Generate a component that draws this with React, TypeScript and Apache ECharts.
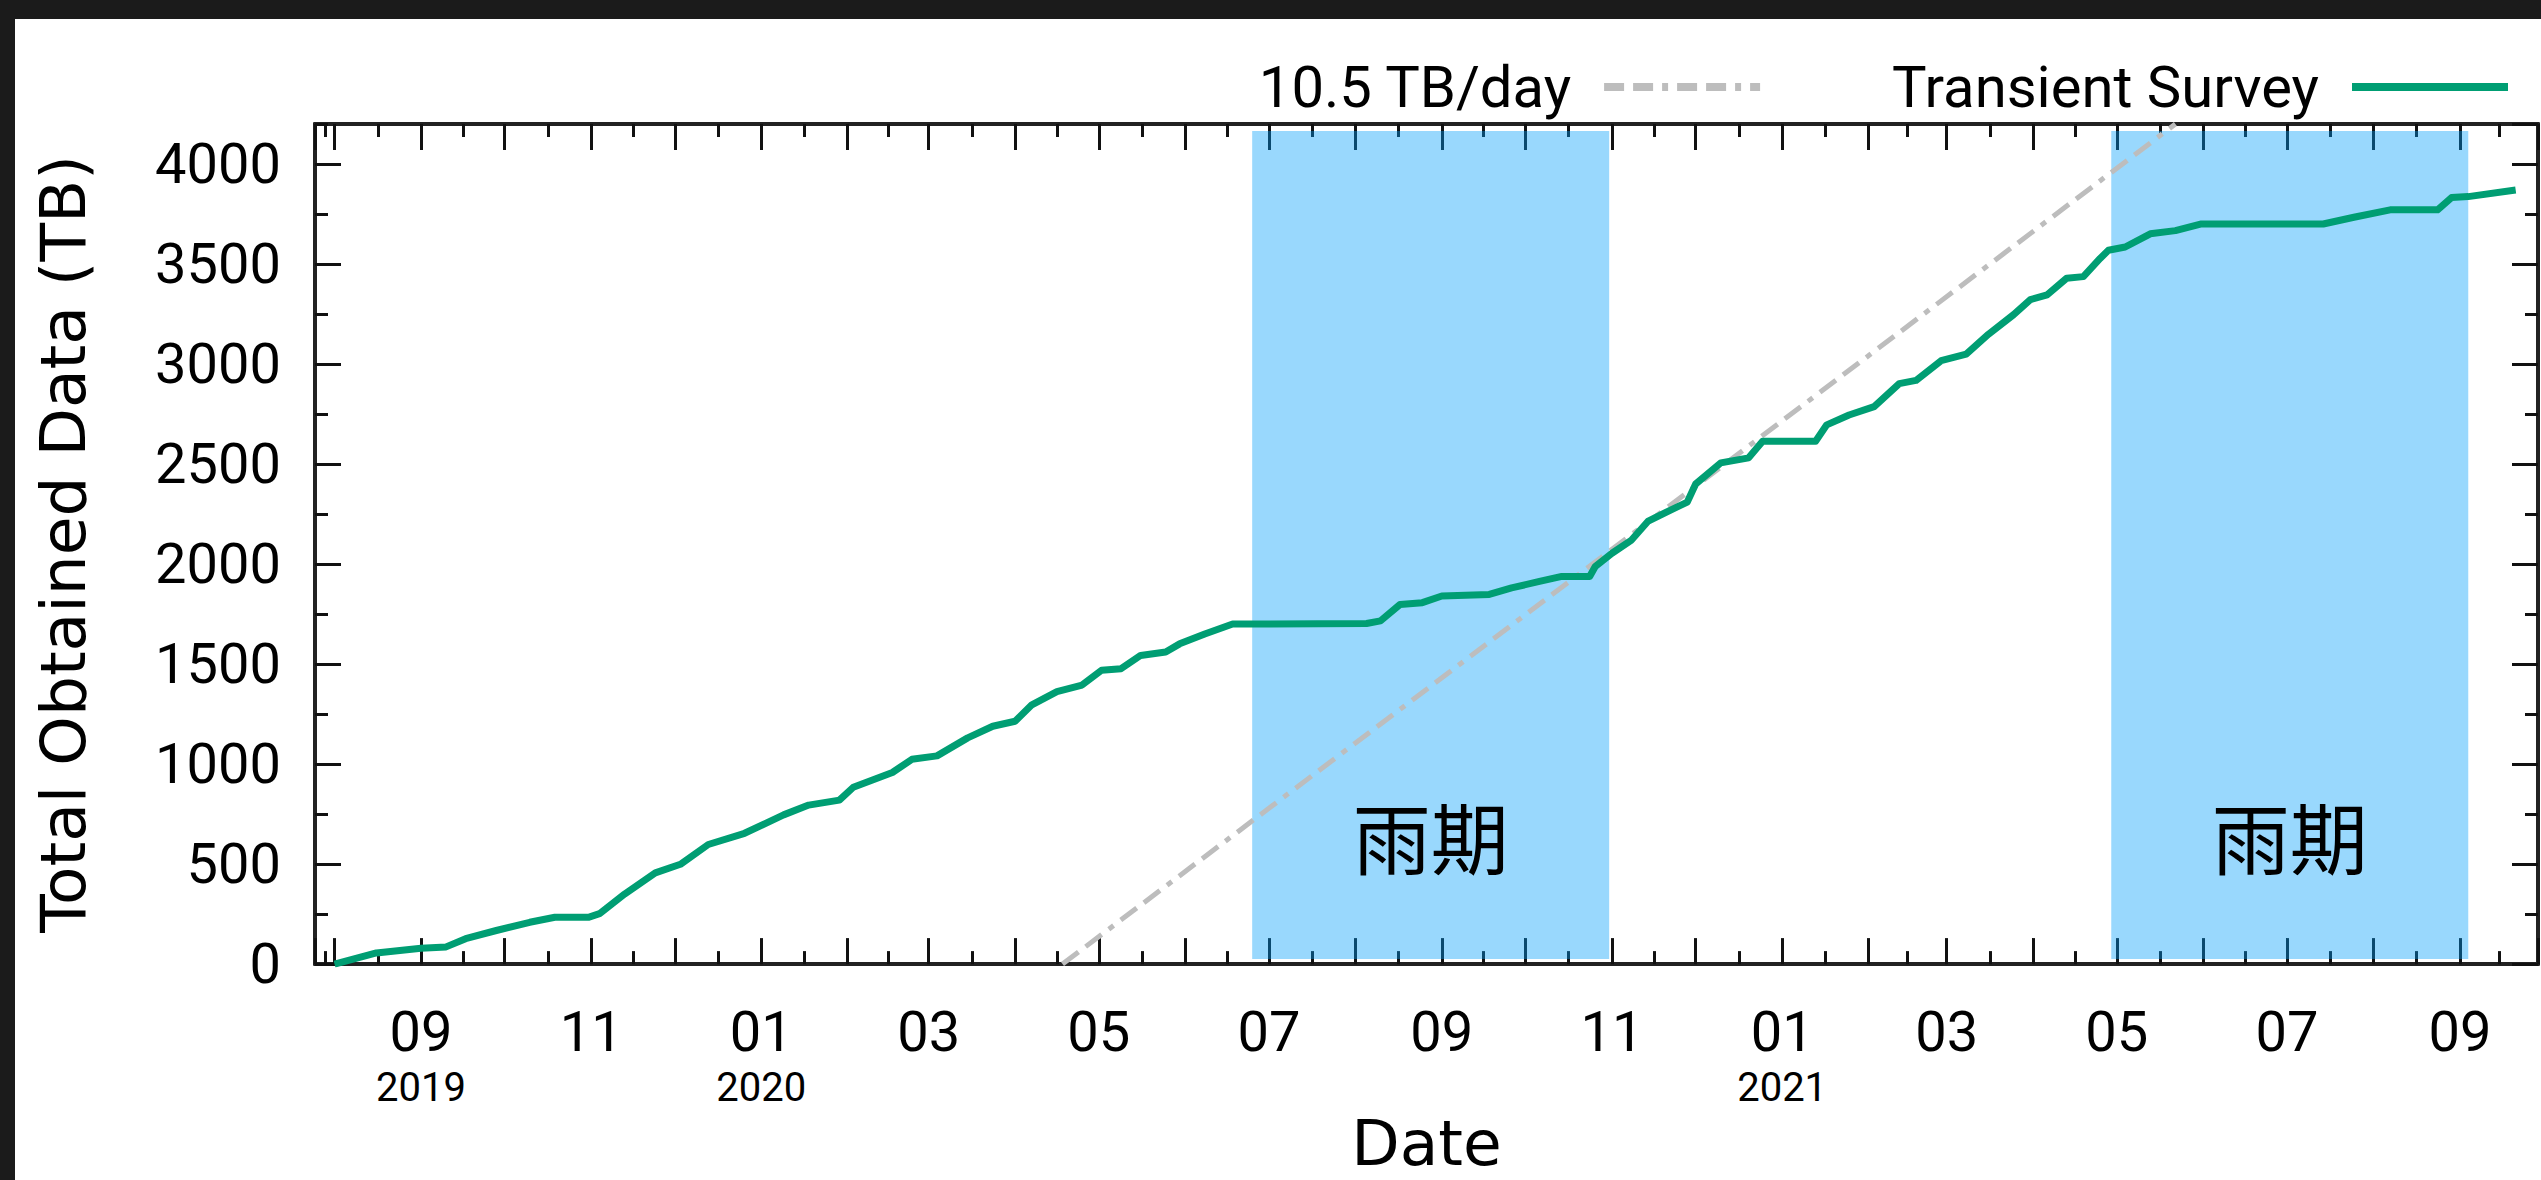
import React, { useEffect, useRef } from 'react';
import * as echarts from 'echarts';

// ---------- data ----------
const surveyDates = [
  '2019-08-01', '2019-08-16', '2019-09-01', '2019-09-10', '2019-09-17', '2019-09-28',
  '2019-10-10', '2019-10-19', '2019-10-31', '2019-11-04', '2019-11-13', '2019-11-24',
  '2019-12-03', '2019-12-13', '2019-12-26', '2020-01-09', '2020-01-18', '2020-01-29',
  '2020-02-03', '2020-02-17', '2020-02-24', '2020-03-04', '2020-03-15', '2020-03-24',
  '2020-04-01', '2020-04-07', '2020-04-16', '2020-04-25', '2020-05-02', '2020-05-09',
  '2020-05-16', '2020-05-25', '2020-05-30', '2020-06-08', '2020-06-18', '2020-08-05',
  '2020-08-10', '2020-08-17', '2020-08-25', '2020-09-01', '2020-09-18', '2020-09-26',
  '2020-10-06', '2020-10-14', '2020-10-24', '2020-10-26', '2020-11-01', '2020-11-08',
  '2020-11-14', '2020-11-22', '2020-11-28', '2020-12-01', '2020-12-10', '2020-12-20',
  '2020-12-25', '2021-01-13', '2021-01-17', '2021-01-25', '2021-02-03', '2021-02-12',
  '2021-02-18', '2021-02-27', '2021-03-08', '2021-03-16', '2021-03-25', '2021-03-31',
  '2021-04-06', '2021-04-13', '2021-04-19', '2021-04-25', '2021-04-28', '2021-05-04',
  '2021-05-13', '2021-05-22', '2021-05-31', '2021-07-14', '2021-07-25', '2021-08-07',
  '2021-08-24', '2021-08-29', '2021-09-04', '2021-09-21',
];
const surveyTB = [
  0, 56, 79, 86, 127, 168,
  209, 234, 234, 252, 350, 456,
  499, 598, 654, 746, 795, 820,
  884, 958, 1024, 1041, 1131, 1189,
  1214, 1296, 1362, 1395, 1469, 1477,
  1543, 1560, 1601, 1650, 1700, 1703,
  1716, 1798, 1807, 1840, 1848, 1881,
  1913, 1938, 1938, 1988, 2054, 2120,
  2215, 2270, 2310, 2400, 2506, 2531,
  2614, 2614, 2696, 2745, 2787, 2902,
  2918, 3017, 3050, 3149, 3247, 3322,
  3346, 3429, 3437, 3528, 3569, 3585,
  3651, 3667, 3700, 3700, 3734, 3771,
  3771, 3832, 3837, 3870,
];

const rateLineDates = ['2020-04-18', '2021-05-22'];
const rateLineTB = [0, 4200];

const rainyStarts = ['2020-06-25', '2021-04-29'];
const rainyEnds = ['2020-10-31', '2021-09-04'];
const rainyLabel = '雨期';
const rainyBottomTB = 25;
const rainyTopTB = 4165;

const xMinDate = '2019-07-25';
const xMaxDate = '2021-09-29';
const yMin = 0;
const yMax = 4200;
const yMajorStep = 500;
const yMinorStep = 250;

const xTickDates = [
  '2019-09-01', '2019-11-01', '2020-01-01', '2020-03-01', '2020-05-01', '2020-07-01',
  '2020-09-01', '2020-11-01', '2021-01-01', '2021-03-01', '2021-05-01', '2021-07-01', '2021-09-01',
];
const xTickLabels = ['09', '11', '01', '03', '05', '07', '09', '11', '01', '03', '05', '07', '09'];
const xYearLabels = ['2019', '', '2020', '', '', '', '', '', '2021', '', '', '', ''];

const seriesNames = ['10.5 TB/day', 'Transient Survey'];
const xAxisTitle = 'Date';
const yAxisTitle = 'Total Obtained Data (TB)';

// ---------- helpers ----------
const DAY = 86400000;
const toUTC = (s: string) => {
  const [y, m, d] = s.split('-').map(Number);
  return Date.UTC(y, m - 1, d);
};
const xTickTimes = xTickDates.map(toUTC);

const frameLine = { color: '#222', width: 4 };
const tickLine = { color: '#111', width: 3 };

export default function App() {
  const ref = useRef<HTMLDivElement>(null);

  useEffect(() => {
    if (!ref.current) return;
    const chart = echarts.init(ref.current, null, { renderer: 'svg' });

    const xCommon: any = {
      type: 'time',
      min: toUTC(xMinDate),
      max: toUTC(xMaxDate),
      splitNumber: 26,
      minInterval: 28 * DAY,
      maxInterval: 31 * DAY,
      axisLine: { show: true, onZero: false, lineStyle: frameLine },
      axisTick: { show: true, inside: true, length: 26, lineStyle: tickLine },
      minorTick: { show: true, splitNumber: 2, length: 13, lineStyle: tickLine },
      splitLine: { show: false },
      minorSplitLine: { show: false },
    };

    const yCommon: any = {
      type: 'value',
      min: yMin,
      max: yMax,
      axisLine: { show: true, onZero: false, lineStyle: frameLine },
      splitLine: { show: false },
    };

    const option: any = {
      animation: false,
      useUTC: true,
      backgroundColor: '#1b1b1b',
      textStyle: { fontFamily: 'Roboto', color: '#000' },
      graphic: [
        {
          type: 'rect',
          z: -10,
          silent: true,
          shape: { x: 15, y: 19, width: 2526, height: 1161 },
          style: { fill: '#ffffff' },
        },
      ],
      grid: { left: 315, right: 3, top: 124, bottom: 206, containLabel: false },
      legend: {
        data: seriesNames,
        right: 24,
        top: 53,
        align: 'right',
        itemWidth: 156,
        itemHeight: 20,
        itemGap: 128,
        itemStyle: { opacity: 0 },
        lineStyle: { width: 8 },
        textStyle: {
          fontFamily: 'Roboto',
          fontSize: 58,
          color: '#000',
          padding: [0, 28, 0, 0],
        },
      },
      xAxis: [
        {
          ...xCommon,
          position: 'bottom',
          axisLabel: {
            show: true,
            margin: 38,
            showMinLabel: false,
            showMaxLabel: false,
            formatter: (value: number) => {
              const i = xTickTimes.indexOf(value);
              if (i < 0) return '';
              return xYearLabels[i]
                ? `{m|${xTickLabels[i]}}\n{y|${xYearLabels[i]}}`
                : `{m|${xTickLabels[i]}}`;
            },
            rich: {
              m: { fontFamily: 'Roboto', fontSize: 56, color: '#000', lineHeight: 60 },
              y: { fontFamily: 'Roboto', fontSize: 40, color: '#000', lineHeight: 50 },
            },
          },
          name: xAxisTitle,
          nameLocation: 'middle',
          nameGap: 140,
          nameTextStyle: { fontFamily: 'DejaVu Sans', fontSize: 63, color: '#000' },
        },
        {
          ...xCommon,
          position: 'top',
          axisLabel: { show: false },
        },
      ],
      yAxis: [
        {
          ...yCommon,
          position: 'left',
          interval: yMajorStep,
          axisTick: { show: true, inside: true, length: 26, lineStyle: tickLine },
          axisLabel: {
            show: true,
            margin: 34,
            fontFamily: 'Roboto',
            fontSize: 56,
            color: '#000',
            showMaxLabel: false,
            formatter: (v: number) => String(v),
          },
          name: yAxisTitle,
          nameLocation: 'middle',
          nameGap: 220,
          nameTextStyle: { fontFamily: 'DejaVu Sans', fontSize: 63, color: '#000' },
        },
        {
          ...yCommon,
          position: 'left',
          interval: yMinorStep,
          axisTick: { show: true, inside: true, length: 13, lineStyle: tickLine },
          axisLabel: { show: false },
        },
        {
          ...yCommon,
          position: 'right',
          interval: yMajorStep,
          axisTick: { show: true, inside: true, length: 26, lineStyle: tickLine },
          axisLabel: { show: false },
        },
        {
          ...yCommon,
          position: 'right',
          interval: yMinorStep,
          axisTick: { show: true, inside: true, length: 13, lineStyle: tickLine },
          axisLabel: { show: false },
        },
      ],
      series: [
        {
          name: seriesNames[0],
          type: 'line',
          xAxisIndex: 0,
          yAxisIndex: 0,
          symbol: 'none',
          showSymbol: false,
          z: 2,
          lineStyle: { color: '#bdbdbd', width: 5, type: [20, 9, 20, 9, 6, 9] },
          itemStyle: { color: '#bdbdbd' },
          data: rateLineDates.map((d, i) => [toUTC(d), rateLineTB[i]]),
        },
        {
          name: seriesNames[1],
          type: 'line',
          xAxisIndex: 0,
          yAxisIndex: 0,
          symbol: 'none',
          showSymbol: false,
          z: 3,
          lineStyle: { color: '#009e73', width: 7, join: 'round' },
          itemStyle: { color: '#009e73' },
          data: surveyDates.map((d, i) => [toUTC(d), surveyTB[i]]),
        },
        {
          name: 'rainy',
          type: 'line',
          xAxisIndex: 0,
          yAxisIndex: 0,
          data: [],
          z: 6,
          silent: true,
          markArea: {
            silent: true,
            itemStyle: { color: 'rgba(0,157,250,0.4)', borderWidth: 0 },
            label: {
              show: true,
              position: ['50%', '85%'],
              align: 'center',
              verticalAlign: 'middle',
              fontFamily: 'Noto Sans CJK SC',
              fontSize: 78,
              color: '#000',
            },
            data: rainyStarts.map((s, i) => [
              { name: rainyLabel, xAxis: toUTC(s), yAxis: rainyBottomTB },
              { xAxis: toUTC(rainyEnds[i]), yAxis: rainyTopTB },
            ]),
          },
        },
      ],
    };

    chart.setOption(option);
    return () => chart.dispose();
  }, []);

  return (
    <div
      ref={ref}
      style={{ position: 'absolute', left: 0, top: 0, width: 2541, height: 1180 }}
    />
  );
}
